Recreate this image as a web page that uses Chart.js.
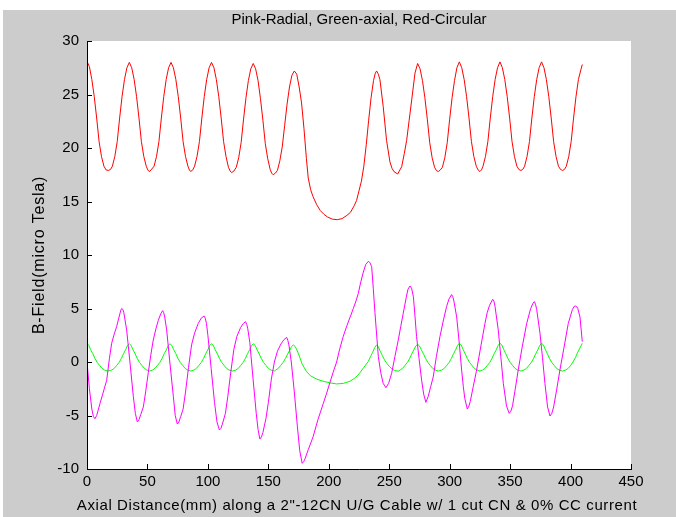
<!DOCTYPE html>
<html>
<head>
<meta charset="utf-8">
<title>B-Field along cable</title>
<script src="https://cdn.jsdelivr.net/npm/chart.js@4.4.1/dist/chart.umd.min.js"></script>
<style>
  html, body { margin: 0; padding: 0; background: #fff; }
  #chart { display: block; }
</style>
</head>
<body>
<canvas id="chart" width="676" height="517"></canvas>
<script>
// [axial distance (mm), B-field (micro Tesla)]
const circularField = [
  [0,28.1],[2,27.6],[4,26.4],[6,24.8],[8,22.8],[10,20.6],[12,19.2],[14,18.3],[15.8,17.95],[17.6,17.9],
  [19.5,18.0],[21,18.3],[23,19.2],[25,20.6],[27,22.8],[29,24.8],[31,26.4],[33,27.5],[35,28.0],
  [37,27.5],[39,26.4],[41,24.8],[43,22.8],[45,20.6],[47,19.2],[49,18.3],[50.3,17.95],[51.5,17.8],
  [53,17.95],[55.5,18.3],[57.5,19.2],[59.5,20.6],[61.5,22.8],[63.5,24.8],[65.5,26.4],[67.5,27.5],[69.5,28.0],
  [71.5,27.5],[73.5,26.4],[75.5,24.8],[77.5,22.8],[79.5,20.6],[81.5,19.2],[83.5,18.3],[84.7,17.95],[85.7,17.8],
  [87.5,17.95],[89,18.3],[91,19.2],[93,20.6],[95,22.8],[97,24.8],[99,26.4],[101,27.5],[103,28.0],
  [105,27.5],[107,26.4],[109,24.8],[111,22.8],[113,20.6],[115,19.2],[117,18.2],[118.4,17.85],[119.6,17.7],
  [121.5,17.85],[123.5,18.2],[125.5,19.1],[127.5,20.5],[129.5,22.7],[131.5,24.7],[133.5,26.3],[135.5,27.4],[137.5,27.9],
  [139.5,27.4],[141.5,26.3],[143.5,24.6],[145.5,22.6],[147.5,20.4],[149.5,19.0],[151.5,18.0],[152.8,17.65],[154,17.5],
  [155.8,17.65],[157.5,17.9],[159.5,18.8],[161.5,20.1],[163.5,22.1],[165.5,24.1],[167.5,25.7],[169.5,26.8],[171.5,27.2],
  [173.5,26.9],[175.5,25.7],[177.5,24.2],[179.5,21.8],[181.5,19.0],[183,17.2],[185,16.1],[187,15.45],[190,14.7],
  [193,14.15],[196,13.8],[199,13.55],[203,13.35],[207,13.3],[211,13.4],[215,13.7],[218,14.0],[221,14.6],[223,15.1],
  [225,16.0],[227,16.9],[229,18.3],[231,20.3],[233,22.6],[235,24.7],[237,26.3],[238.5,27.0],[239.6,27.2],
  [241,26.9],[242.3,26.4],[245,23.9],[247.8,20.7],[250.6,18.7],[252.3,18.1],[253.9,17.8],[257,17.57],
  [260.3,18.25],[262.5,19.5],[264.4,20.7],[266.5,22.6],[268.6,24.5],[271.3,27.0],[273.5,27.9],
  [275.5,27.4],[277.5,26.3],[279.5,24.7],[281.5,22.7],[283.5,20.5],[285.5,19.1],[287.5,18.2],[289,17.9],[290.6,17.8],
  [292.3,17.95],[294,18.2],[296,19.1],[298,20.5],[300,22.7],[302,24.7],[304,26.3],[306,27.5],[308,28.05],
  [310,27.5],[312,26.4],[314,24.8],[316,22.8],[318,20.6],[320,19.2],[322,18.3],[323.5,17.95],[325,17.8],
  [326.3,17.95],[327.6,18.3],[329.6,19.2],[331.6,20.6],[333.6,22.8],[335.6,24.8],[337.6,26.4],[339.6,27.5],[341.6,28.05],
  [343.6,27.5],[345.6,26.4],[347.6,24.8],[349.6,22.8],[351.6,20.6],[353.6,19.2],[355.6,18.3],[357.2,18.0],[358.9,17.9],
  [360.5,18.0],[362,18.3],[364,19.2],[366,20.6],[368,22.8],[370,24.8],[372,26.4],[374,27.5],[376,28.05],
  [378,27.5],[380,26.4],[382,24.8],[384,22.8],[386,20.6],[388,19.2],[390,18.3],[391.7,18.0],[393.4,17.9],
  [395,18.0],[396.5,18.3],[398.5,19.2],[400.5,20.6],[402.5,22.8],[404.5,24.8],[406.5,26.4],[408.5,27.3],[409.7,27.8]
];

const radialField = [
  [0,0.0],[2,-2.5],[4,-4.4],[5.3,-5.1],[6.6,-5.3],[8,-5.0],[9,-4.6],[10.7,-3.9],[13,-3.0],[16.3,-1.7],
  [18.5,0.3],[20.4,1.75],[22.5,2.6],[24.5,3.3],[26.5,4.2],[28,4.85],[28.7,5.0],[29.7,4.9],[30.5,4.6],[32.8,3.0],
  [35.6,-0.1],[38.3,-3.2],[40,-4.8],[41.6,-5.6],[43,-5.4],[44.5,-4.9],[46.6,-4.2],[48.5,-2.8],[50.7,-1.0],
  [52.7,0.6],[54.8,2.05],[57,3.1],[59,3.9],[61,4.5],[62.6,4.8],[63.5,4.6],[64.3,4.2],[65.9,3.0],[68.6,-0.1],
  [71.4,-3.2],[73,-5.0],[74.7,-5.8],[76,-5.6],[77.5,-5.1],[79.5,-4.4],[81.5,-2.8],[84,-0.5],[86.5,1.6],[89,2.7],
  [92,3.6],[94.5,4.1],[96.8,4.3],[97.8,4.1],[98.8,3.6],[100,2.5],[102.7,-0.6],[105.5,-3.8],[107.5,-5.6],[109.5,-6.35],
  [110.8,-6.2],[112,-5.8],[114.5,-4.8],[116.5,-3.2],[119,-0.9],[121.5,1.2],[124,2.4],[127,3.2],[129.3,3.6],[131.2,3.77],
  [132.2,3.5],[133,3.1],[134.7,1.8],[137.3,-1.5],[140,-4.8],[141.5,-6.3],[143,-7.2],[144.3,-7.0],[145.5,-6.6],
  [148,-5.3],[150,-3.8],[152.5,-1.6],[155,0.0],[157.5,1.0],[160.5,1.7],[163,2.1],[165.2,2.3],[166.2,2.0],[167,1.6],
  [169,0.0],[171.5,-2.8],[174,-6.0],[176,-8.3],[178,-9.47],[179.3,-9.3],[180.5,-9.0],[183,-8.2],[187,-7.0],
  [191,-5.4],[195.4,-3.9],[198,-3.0],[201,-1.9],[203.5,-1.0],[206.5,0.0],[209,1.2],[212,2.4],[215,3.4],[218,4.3],
  [220.3,5.0],[222.5,5.7],[224.4,6.4],[226.5,7.5],[228.6,8.4],[230.5,9.1],[232.7,9.4],[234,9.3],[235.5,8.9],
  [236.8,6.9],[238.2,4.6],[241,0.5],[243,-1.0],[245,-2.0],[247.3,-2.4],[249.5,-2.0],[252,-1.06],[254.7,0.5],
  [257.5,2.06],[259.5,3.3],[261.6,4.55],[264,6.0],[265.5,6.8],[267.2,7.1],[268.5,6.9],[270,6.1],[271.3,4.3],
  [272.6,2.4],[274.7,0.3],[276.8,-1.7],[278.5,-3.0],[280.3,-3.77],[282.3,-3.2],[284.3,-2.3],[286.4,-1.4],[289,0.5],
  [292,2.4],[295,4.0],[297.5,5.2],[299.5,5.9],[301.6,6.3],[302.6,6.1],[303.5,5.7],[305.8,4.2],[308,1.7],[309.9,-0.75],
  [311.3,-2.3],[312.5,-3.4],[314.6,-4.4],[316,-4.1],[317,-3.7],[319.5,-2.3],[322.3,-0.75],[326,1.6],[329.2,3.6],
  [331,4.6],[333,5.3],[335.6,5.86],[336.6,5.7],[337.5,5.2],[340.2,3.0],[342.3,0.5],[344.4,-2.0],[347,-4.1],
  [349.3,-4.8],[350.6,-4.6],[352,-4.1],[354.3,-2.5],[356.7,-0.75],[360,1.4],[363.7,3.6],[367,5.0],[369,5.5],
  [370,5.64],[371,5.4],[372,4.9],[374.7,2.7],[376.8,0.4],[378.8,-2.0],[381,-4.2],[383,-5.05],[384.5,-4.8],
  [386,-4.2],[388.5,-2.6],[391.2,-0.75],[394.5,1.3],[398.1,3.6],[401.5,4.9],[403,5.2],[404.2,5.23],[405.2,5.15],
  [406,5.0],[407.8,4.2],[409.7,1.9]
];

const axialField = [
  [0,1.75],[1.5,1.55],[3,1.15],[4.7,0.8],[6.5,0.35],[8.5,-0.05],[10.3,-0.3],[12.5,-0.6],[14.5,-0.75],[17,-0.85],
  [20.5,-0.75],[22.5,-0.6],[24.7,-0.3],[26.5,-0.05],[28.5,0.35],[30.3,0.8],[32,1.15],[33.5,1.55],[35,1.7],
  [36.5,1.55],[38,1.15],[39.7,0.8],[41.5,0.35],[43.5,-0.05],[45.3,-0.3],[47.5,-0.6],[49.5,-0.75],[51.8,-0.85],
  [54.2,-0.75],[56.2,-0.6],[58.4,-0.3],[60.2,-0.05],[62.2,0.35],[64,0.8],[65.7,1.15],[67.2,1.55],[68.7,1.7],
  [70.2,1.55],[71.7,1.15],[73.4,0.8],[75.2,0.35],[77.2,-0.05],[79,-0.3],[81.2,-0.6],[83.2,-0.75],[86,-0.85],
  [88.5,-0.75],[90.5,-0.6],[92.7,-0.3],[94.5,-0.05],[96.5,0.35],[98.3,0.8],[100,1.15],[101.5,1.55],[103,1.7],
  [104.5,1.55],[106,1.15],[107.7,0.8],[109.5,0.35],[111.5,-0.05],[113.3,-0.3],[115.5,-0.6],[117.5,-0.75],[120.3,-0.85],
  [123.1,-0.75],[125.1,-0.6],[127.3,-0.3],[129.1,-0.05],[131.1,0.35],[132.9,0.8],[134.6,1.15],[136.1,1.55],[137.6,1.7],
  [139.1,1.55],[140.6,1.15],[142.3,0.8],[144.1,0.35],[146.1,-0.05],[147.9,-0.3],[150.1,-0.6],[152.1,-0.75],[155,-0.85],
  [156.2,-0.75],[158.2,-0.6],[160.4,-0.3],[162.2,-0.05],[164.2,0.35],[166,0.75],[167.7,1.1],[169.2,1.45],[170.7,1.6],
  [172.2,1.45],[173.7,1.1],[175.5,0.6],[178,-0.2],[181.6,-0.9],[185,-1.3],[190,-1.6],[195.4,-1.8],[201,-1.95],
  [206.5,-2.05],[212,-2.0],[217.5,-1.8],[221,-1.55],[223.5,-1.3],[225.8,-1.0],[229,-0.5],[232.7,0.05],[234.5,0.5],
  [236.3,0.9],[238,1.35],[239.6,1.6],[241.1,1.4],[242.6,1.0],[244.3,0.6],[246.1,0.2],[248.1,-0.15],[250,-0.4],
  [252.2,-0.65],[254.5,-0.8],[257.5,-0.85],
  [259,-0.75],[261,-0.6],[263.2,-0.3],[265,-0.05],[267,0.35],[268.8,0.8],[270.5,1.15],[272,1.5],[273.5,1.65],
  [275,1.5],[276.5,1.15],[278.2,0.8],[280,0.35],[282,-0.05],[283.8,-0.3],[286,-0.6],[288,-0.75],[290.6,-0.85],
  [293.5,-0.75],[295.5,-0.6],[297.7,-0.3],[299.5,-0.05],[301.5,0.35],[303.3,0.8],[305,1.15],[306.5,1.55],[308,1.75],
  [309.5,1.6],[311,1.2],[312.7,0.8],[314.5,0.35],[316.5,-0.05],[318.3,-0.3],[320.5,-0.6],[322.5,-0.75],[325,-0.85],
  [327.1,-0.75],[329.1,-0.6],[331.3,-0.3],[333.1,-0.05],[335.1,0.35],[336.9,0.8],[338.6,1.15],[340.1,1.55],[341.6,1.75],
  [343.1,1.6],[344.6,1.2],[346.3,0.8],[348.1,0.35],[350.1,-0.05],[351.9,-0.3],[354.1,-0.6],[356.1,-0.75],[359,-0.85],
  [361.5,-0.75],[363.5,-0.6],[365.7,-0.3],[367.5,-0.05],[369.5,0.35],[371.3,0.8],[373,1.15],[374.5,1.55],[376,1.75],
  [377.5,1.6],[379,1.2],[380.7,0.8],[382.5,0.35],[384.5,-0.05],[386.3,-0.3],[388.5,-0.6],[390.5,-0.75],[393.4,-0.85],
  [396,-0.75],[398,-0.6],[400.2,-0.3],[402,0.0],[404,0.4],[405.7,0.85],[407.3,1.2],[408.6,1.5],[409.7,1.75]
];

const xRange = [0, 450];
const yRange = [-10, 30];
const titleText = 'Pink-Radial, Green-axial, Red-Circular';
const xTitle = 'Axial Distance(mm) along a 2"-12CN U/G Cable w/ 1 cut CN & 0% CC current';
const yTitle = 'B-Field(micro Tesla)';

const FIG_GRAY = '#cccccc';
const FONT = '"Liberation Sans", Arial, sans-serif';

const toPoints = (rows) => rows.map(([d, b]) => ({ x: d, y: b }));

// matlab-ish figure: gray frame, white axes box, inward ticks, no top/right box
const figureFrame = {
  id: 'figureFrame',
  beforeDraw(chart) {
    const { ctx, chartArea: a } = chart;
    ctx.save();
    ctx.fillStyle = '#ffffff';
    ctx.fillRect(0, 0, chart.width, chart.height);
    ctx.fillStyle = FIG_GRAY;
    ctx.fillRect(3, 10, chart.width - 3, chart.height - 10);
    ctx.fillStyle = '#ffffff';
    ctx.fillRect(a.left, a.top, a.right - a.left, a.bottom - a.top);
    ctx.restore();
  },
  afterDraw(chart) {
    const { ctx, chartArea: a, scales: { x, y } } = chart;
    ctx.save();
    ctx.strokeStyle = '#000';
    ctx.lineWidth = 1;
    ctx.beginPath();
    ctx.moveTo(a.left + 0.5, a.top);
    ctx.lineTo(a.left + 0.5, a.bottom + 0.5);
    ctx.lineTo(a.right + 1, a.bottom + 0.5);
    x.ticks.forEach(t => {
      const px = Math.round(x.getPixelForValue(t.value)) + 0.5;
      ctx.moveTo(px, a.bottom);
      ctx.lineTo(px, a.bottom - 5);
    });
    y.ticks.forEach(t => {
      const py = Math.round(y.getPixelForValue(t.value)) + 0.5;
      ctx.moveTo(a.left, py);
      ctx.lineTo(a.left + 5, py);
    });
    ctx.stroke();

    ctx.fillStyle = '#000';
    ctx.font = '15px ' + FONT;
    ctx.textAlign = 'center';
    ctx.textBaseline = 'alphabetic';
    ctx.fillText(titleText, (a.left + a.right) / 2, 24);

    ctx.letterSpacing = '0.6px';
    ctx.fillText(xTitle, (a.left + a.right) / 2 - 2, 510);

    ctx.translate(44, (a.top + a.bottom) / 2);
    ctx.rotate(-Math.PI / 2);
    ctx.font = '16px ' + FONT;
    ctx.letterSpacing = '0.8px';
    ctx.fillText(yTitle, 0, 0);
    ctx.restore();
  }
};

const tickFont = { family: FONT, size: 15 };

new Chart(document.getElementById('chart'), {
  type: 'line',
  data: {
    datasets: [
      { label: 'Radial', data: toPoints(radialField), borderColor: '#ff00ff' },
      { label: 'Axial', data: toPoints(axialField), borderColor: '#00ff00' },
      { label: 'Circular', data: toPoints(circularField), borderColor: '#ff0000' }
    ]
  },
  options: {
    responsive: false,
    animation: false,
    parsing: false,
    elements: {
      line: { borderWidth: 1, tension: 0, fill: false },
      point: { radius: 0, hoverRadius: 0 }
    },
    layout: { padding: { top: 41, right: 45, left: 0, bottom: 0 } },
    plugins: {
      legend: { display: false },
      title: { display: false },
      tooltip: { enabled: false }
    },
    scales: {
      x: {
        type: 'linear',
        min: xRange[0],
        max: xRange[1],
        grid: { display: false, drawTicks: false },
        border: { display: false },
        ticks: { stepSize: 50, color: '#000', font: tickFont, padding: 4, maxRotation: 0, autoSkip: false },
        afterFit(scale) { scale.height = 48; }
      },
      y: {
        min: yRange[0],
        max: yRange[1],
        grid: { display: false, drawTicks: false },
        border: { display: false },
        ticks: { stepSize: 5, color: '#000', font: tickFont, padding: 8, autoSkip: false },
        afterFit(scale) { scale.width = 87; }
      }
    }
  },
  plugins: [figureFrame]
});
</script>
</body>
</html>
